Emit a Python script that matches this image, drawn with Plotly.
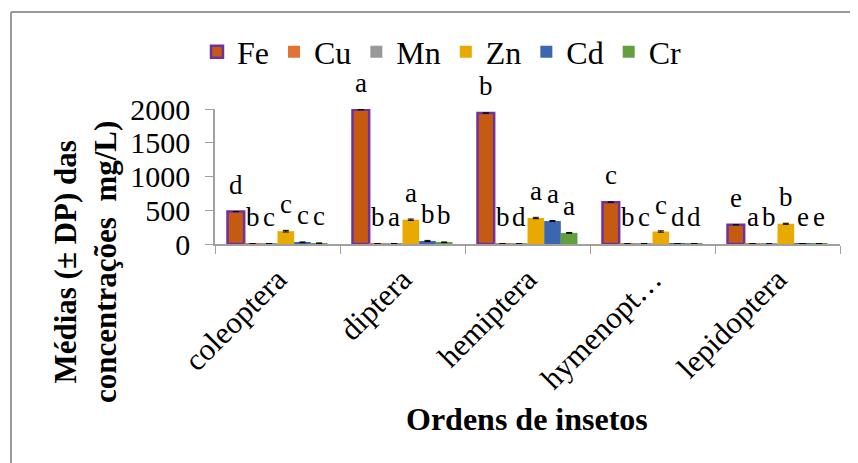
import plotly.graph_objects as go

categories = ["coleoptera", "diptera", "hemiptera", "hymenopt…", "lepidoptera"]
series_names = ["Fe", "Cu", "Mn", "Zn", "Cd", "Cr"]

fe = [480, 1990, 1940, 620, 285]
cu = [3, 3, 2, 3, 4]
mn = [6, 5, 2, 5, 4]
zn = [190, 360, 385, 185, 300]
cd = [25, 45, 340, 5, 5]
cr = [12, 25, 165, 5, 5]

fe_err = [0, 0, 0, 0, 0]
cu_err = [1, 1, 1, 1, 1]
mn_err = [1, 1, 1, 1, 1]
zn_err = [12, 10, 10, 10, 8]
cd_err = [6, 8, 8, 2, 2]
cr_err = [3, 5, 6, 2, 2]

fe_lab = ["d", "a", "b", "c", "e"]
cu_lab = ["b", "b", "b", "b", "a"]
mn_lab = ["c", "a", "d", "c", "b"]
zn_lab = ["c", "a", "a", "c", "b"]
cd_lab = ["c", "b", "a", "d", "e"]
cr_lab = ["c", "b", "a", "d", "e"]

values = [fe, cu, mn, zn, cd, cr]
errors = [fe_err, cu_err, mn_err, zn_err, cd_err, cr_err]
labels = [fe_lab, cu_lab, mn_lab, zn_lab, cd_lab, cr_lab]
colors = ["#C55A11", "#E07434", "#999999", "#E8AA00", "#3D66B0", "#62A03E"]
line_colors = ["#7030A0", "#E07434", "#999999", "#E8AA00", "#3D66B0", "#62A03E"]
line_widths = [2.5, 0, 0, 0, 0, 0]

SERIF = "Liberation Serif, Times New Roman, Times, serif"

fig = go.Figure()
for i, name in enumerate(series_names):
    fig.add_trace(go.Bar(
        name=name,
        x=categories,
        y=values[i],
        marker=dict(color=colors[i], line=dict(color=line_colors[i], width=line_widths[i])),
        error_y=dict(type="data", array=errors[i], visible=True, color="black",
                     thickness=1, width=3),
        offsetgroup=str(i),
    ))

n = len(series_names)
group_frac = 0.8
bw = group_frac / n
annotations = []
for i in range(n):
    for j, cat in enumerate(categories):
        xoff = -group_frac / 2 + bw * (i + 0.5)
        annotations.append(dict(
            x=j + xoff, y=values[i][j], xref="x", yref="y",
            text=labels[i][j], showarrow=False, yanchor="middle", yshift=27,
            font=dict(family=SERIF, size=27, color="black"),
        ))

# page offset (browser body margin)
OX, OY = 8, 8
W, H = 858, 463
PL, PR, PT, PB = 215, 840, 109, 244  # plot area in page pixels
L = PL - OX
R = W - (PR - OX)
T = PT - OY
B = H - (PB - OY)
pw = PR - PL
ph = PB - PT


def px(xp):
    return (xp - PL) / pw


def py(yp):
    return (PB - yp) / ph


annotations.append(dict(
    x=px(527), y=py(419), xref="paper", yref="paper",
    text="<b>Ordens de insetos</b>", showarrow=False,
    font=dict(family=SERIF, size=32, color="black"),
    xanchor="center", yanchor="middle",
))
annotations.append(dict(
    x=px(85), y=py(262), xref="paper", yref="paper",
    text="<b>Médias (± DP) das<br>concentrações  mg/L)</b>", showarrow=False,
    font=dict(family=SERIF, size=31, color="black"), textangle=-90,
    xanchor="center", yanchor="middle",
))

fig.update_layout(
    width=W, height=H,
    margin=dict(l=L, r=R, t=T, b=B, autoexpand=False),
    paper_bgcolor="white", plot_bgcolor="white",
    barmode="group", bargap=0.2, bargroupgap=0,
    showlegend=True,
    font=dict(family=SERIF, color="black"),
    legend=dict(orientation="h", xref="container", yref="container",
                x=(197 - OX) / W, y=1 - (52 - OY) / H, xanchor="left", yanchor="middle",
                font=dict(family=SERIF, size=32, color="black"),
                itemwidth=30, traceorder="normal"),
    annotations=annotations,
    shapes=[
        dict(type="line", xref="paper", yref="paper",
             x0=px(11), x1=px(870), y0=py(12), y1=py(12),
             line=dict(color="#999999", width=2)),
        dict(type="line", xref="paper", yref="paper",
             x0=px(11), x1=px(11), y0=py(12), y1=py(480),
             line=dict(color="#999999", width=2)),
    ],
)

fig.update_xaxes(
    showline=True, linecolor="#A0A0A0", linewidth=1.5,
    ticks="outside", tickson="boundaries", ticklen=8, tickcolor="#A0A0A0",
    tickangle=-45, tickfont=dict(family=SERIF, size=31, color="black"),
    showgrid=False, zeroline=False, ticklabelstandoff=3,
)
fig.update_yaxes(
    range=[0, 2000], tickvals=[0, 500, 1000, 1500, 2000],
    showline=True, linecolor="#A0A0A0", linewidth=1.5,
    ticks="outside", ticklen=8, tickcolor="#A0A0A0",
    tickfont=dict(family=SERIF, size=30, color="black"),
    showgrid=False, zeroline=False, ticklabelstandoff=9,
)

fig.write_html("out.html")
